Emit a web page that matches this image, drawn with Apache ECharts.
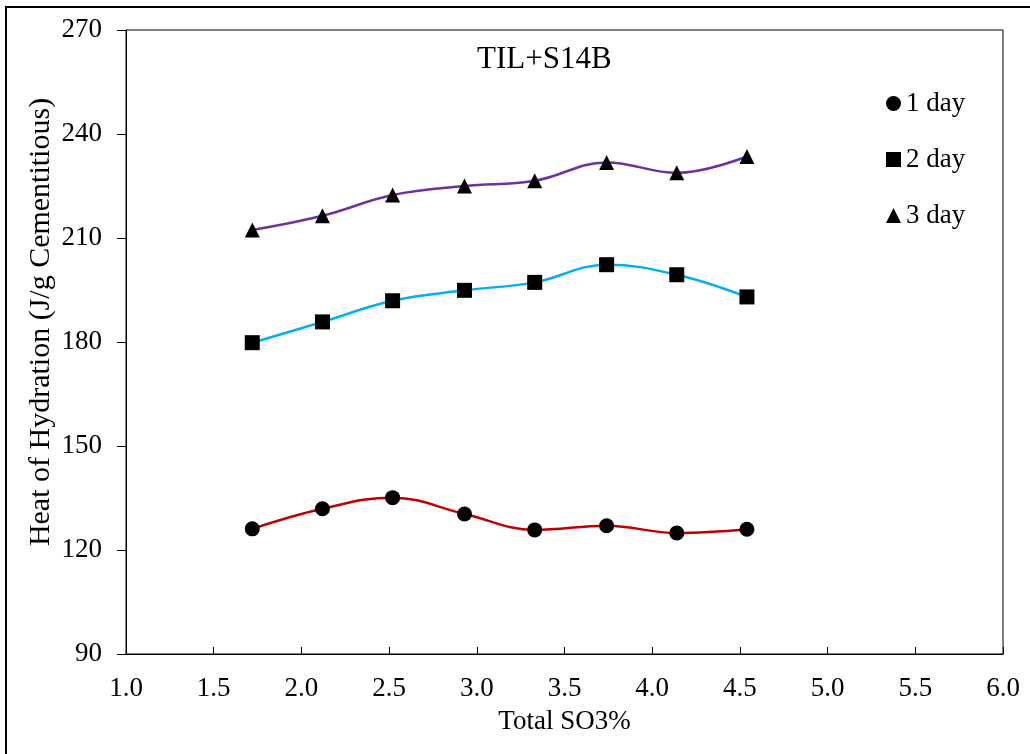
<!DOCTYPE html>
<html>
<head>
<meta charset="utf-8">
<script src="https://cdn.jsdelivr.net/npm/echarts@6/dist/echarts.min.js"></script>
<style>
  html, body { margin: 0; padding: 0; background: #fff; }
  #box { width: 1030px; height: 754px; }
</style>
</head>
<body>
<div id="box"></div>
<script>
var so3 = [1.72, 2.12, 2.52, 2.93, 3.33, 3.74, 4.14, 4.54];
var day1 = [126.1, 131.9, 135.1, 130.4, 125.8, 127.0, 124.9, 126.0];
var day2 = [179.8, 185.8, 191.9, 194.9, 197.2, 202.3, 199.4, 193.0];
var day3 = [212.3, 216.4, 222.4, 225.0, 226.5, 231.8, 228.8, 233.5];
var xTicks = [1.0, 1.5, 2.0, 2.5, 3.0, 3.5, 4.0, 4.5, 5.0, 5.5, 6.0];
var yTicks = [90, 120, 150, 180, 210, 240, 270];

var font = 'Liberation Serif';

function pairs(ys) {
    return so3.map(function(x, i) { return [x, ys[i]]; });
}

function makeSeries(name, ys, symbol, size, lineColor) {
    return {
        name: name,
        type: 'line',
        data: pairs(ys),
        smooth: 0.4,
        symbol: symbol,
        symbolSize: size,
        showAllSymbol: true,
        itemStyle: { color: '#000' },
        lineStyle: { color: lineColor, width: 2.5 },
        emphasis: { disabled: true }
    };
}

var chart = echarts.init(document.getElementById('box'));

var option = {
    animation: false,
    backgroundColor: '#fff',
    textStyle: { fontFamily: font, color: '#000' },
    graphic: [{
        type: 'rect',
        shape: { x: 6, y: 7, width: 1100, height: 800 },
        style: { fill: 'none', stroke: '#000', lineWidth: 2 },
        silent: true
    }],
    title: {
        text: 'TIL+S14B',
        left: 472,
        top: 39,
        textStyle: { fontFamily: font, fontSize: 31, fontWeight: 'normal', color: '#000' }
    },
    legend: {
        orient: 'vertical',
        left: 881,
        top: 85,
        itemGap: 29,
        itemWidth: 15,
        itemHeight: 15,
        textStyle: { fontFamily: font, fontSize: 27, color: '#000' },
        data: [
            { name: '1 day', icon: 'circle' },
            { name: '2 day', icon: 'rect' },
            { name: '3 day', icon: 'triangle' }
        ]
    },
    grid: {
        left: 126, top: 30, right: 27, bottom: 100,
        show: true, borderColor: '#000', borderWidth: 1
    },
    xAxis: {
        type: 'value',
        min: xTicks[0],
        max: xTicks[xTicks.length - 1],
        interval: 0.5,
        name: 'Total SO3%',
        nameLocation: 'middle',
        nameGap: 54,
        nameTextStyle: { fontFamily: font, fontSize: 27, color: '#000' },
        axisLine: { lineStyle: { color: '#000', width: 1 } },
        axisTick: { inside: true, length: 7, lineStyle: { color: '#000' } },
        axisLabel: {
            fontFamily: font, fontSize: 27, color: '#000', margin: 21,
            formatter: function(v) { return v.toFixed(1); }
        },
        splitLine: { show: false }
    },
    yAxis: {
        type: 'value',
        min: yTicks[0],
        max: yTicks[yTicks.length - 1],
        interval: 30,
        name: 'Heat of Hydration (J/g Cementitious)',
        nameLocation: 'middle',
        nameGap: 70,
        nameMoveOverlap: false,
        nameTextStyle: { fontFamily: font, fontSize: 30, color: '#000', padding: [0, 0, 0, 40] },
        axisLine: { show: true, lineStyle: { color: '#000', width: 1 } },
        axisTick: { show: true, inside: false, length: 9, lineStyle: { color: '#000' } },
        axisLabel: { fontFamily: font, fontSize: 27, color: '#000', margin: 24 },
        splitLine: { show: false }
    },
    series: [
        makeSeries('1 day', day1, 'circle', 15, '#C00000'),
        makeSeries('2 day', day2, 'rect', 15, '#00B0F0'),
        makeSeries('3 day', day3, 'triangle', 15, '#7030A0')
    ]
};

chart.setOption(option);
</script>
</body>
</html>
